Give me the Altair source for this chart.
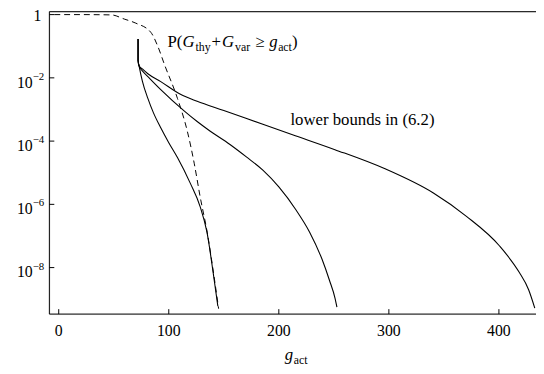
import altair as alt
import pandas as pd

# ---------------- values ----------------
# dashed curve: P(G_thy + G_var >= g_act)
dashed_x = [-4, 20, 48, 59.5, 70, 83.7, 90, 96.2, 107.9, 116.8, 123.1, 128.5, 135, 141, 145.3]
dashed_p = [1.0, 1.0, 0.977, 0.724, 0.537, 0.275, 0.1, 0.0257, 0.00224, 2.09e-4, 2.0e-5,
            1.74e-6, 1.26e-7, 5.62e-9, 5.01e-10]

# three solid "lower bounds" curves
bound1_x = [72.1, 72.1, 73, 76, 81, 86, 92.7, 100, 107.9, 119.5, 128.5, 134.7, 140.7, 144.6]
bound1_p = [0.170, 0.0355, 0.0240, 0.00794, 0.00224, 7.94e-4, 2.63e-4, 8.91e-5, 3.02e-5,
            4.68e-6, 8.51e-7, 1.32e-7, 5.62e-9, 6.03e-10]

bound2_x = [72.1, 72.1, 73, 76, 81, 92.7, 114.2, 125.8, 137.4, 155.3, 170.5, 185.5, 200,
            215.5, 228, 239.2, 246, 251.1, 252.8]
bound2_p = [0.170, 0.0355, 0.0240, 0.0166, 0.0110, 0.00427, 8.91e-4, 4.17e-4, 2.09e-4,
            7.94e-5, 3.16e-5, 1.20e-5, 3.55e-6, 6.76e-7, 1.32e-7, 1.86e-8, 3.98e-9,
            1.07e-9, 5.62e-10]

bound3_x = [72.1, 72.1, 73, 76, 81, 92.7, 110.6, 125.8, 150, 185.5, 215, 251, 296, 340.8,
            370.5, 400.4, 418.3, 427, 432.6]
bound3_p = [0.170, 0.0355, 0.0240, 0.0191, 0.0135, 0.00759, 0.00302, 0.00182, 9.33e-4,
            3.39e-4, 1.48e-4, 5.37e-5, 1.35e-5, 2.24e-6, 4.17e-7, 4.90e-8, 7.24e-9,
            2.0e-9, 5.25e-10]

# tick labels
xtick_vals = [0, 100, 200, 300, 400]
xtick_labels = ["0", "100", "200", "300", "400"]
ytick_vals = [1, 1e-2, 1e-4, 1e-6, 1e-8]
ytick_base = ["1", "10", "10", "10", "10"]
ytick_exp = ["", "\u22122", "\u22124", "\u22126", "\u22128"]

# annotation texts (pieces: roman / italic / subscript)
ann_prob_text = ["P(", "G", "thy", "+", "G", "var", "\u2265", "g", "act", ")"]
ann_prob_kind = ["roman", "italic", "sub", "roman", "italic", "sub", "roman", "italic", "sub", "roman"]
ann_prob_at = (98.9, 0.0935)
ann_bounds_text = "lower bounds in (6.2)"
ann_bounds_at = (210.5, 3.24e-4)
xtitle_text = ["g", "act"]
xtitle_kind = ["italic", "sub"]
xtitle_at = 205.5

# ---------------- layout / styling ----------------
W, H = 494, 307
XMIN, XMAX = -8.5, 433.7
YMIN, YMAX = 3.39e-10, 1.239
SERIF = "Liberation Serif, Times New Roman, serif"
MAIN, SUB, TICK = 17, 12, 16
PX_PER_UNIT = W / (XMAX - XMIN)

xscale = alt.Scale(domain=[XMIN, XMAX], nice=False, zero=False)
yscale = alt.Scale(type="log", domain=[YMIN, YMAX], nice=False)

ROMAN = {'P': 556, '(': 333, ')': 333, '+': 564, '\u2265': 549, 't': 278, 'h': 500,
         'y': 500, 'v': 500, 'a': 444, 'r': 333, 'c': 444}
ITALIC = {'G': 722, 'g': 500}
GAP_AFTER = {'G': 1.0, 'thy': 1.0, '+': 1.0, 'var': 5.0, '\u2265': 5.0, 'g': 0.5}


def piece_width(s, kind):
    size = SUB if kind == "sub" else MAIN
    table = ITALIC if kind == "italic" else ROMAN
    return sum(table[ch] for ch in s) * size / 1000.0


def layout_pieces(texts, kinds, x0):
    rows, off = [], 0.0
    for t, k in zip(texts, kinds):
        rows.append({"text": t, "kind": k, "x": x0 + off / PX_PER_UNIT})
        off += piece_width(t, k) + GAP_AFTER.get(t, 0.0)
    return rows


# ---------------- data tables ----------------
curve_rows = []
for name, xs, ps in [("b1", bound1_x, bound1_p), ("b2", bound2_x, bound2_p), ("b3", bound3_x, bound3_p)]:
    for i, (xv, pv) in enumerate(zip(xs, ps)):
        curve_rows.append({"curve": name, "i": i, "x": xv, "p": pv})
solid_df = pd.DataFrame(curve_rows)
dashed_df = pd.DataFrame({"i": list(range(len(dashed_x))), "x": dashed_x, "p": dashed_p})

X = lambda f: alt.X(f, type="quantitative", scale=xscale, axis=None)
Y = lambda f: alt.Y(f, type="quantitative", scale=yscale, axis=None)

solid = alt.Chart(solid_df).mark_line(color="black", strokeWidth=1.1, clip=True,
                                      interpolate="monotone").encode(
    x=X("x"), y=Y("p"), detail="curve:N", order="i:Q")
dashed = alt.Chart(dashed_df).mark_line(color="black", strokeWidth=1.0, strokeDash=[6, 4], clip=True,
                                        interpolate="monotone").encode(
    x=X("x"), y=Y("p"), order="i:Q")

one = pd.DataFrame({"a": [0]})
frame_left = alt.Chart(one).mark_rule(color="black", strokeWidth=1).encode(
    x=alt.value(0), y=alt.value(0), y2=alt.value(H))
frame_bottom = alt.Chart(one).mark_rule(color="black", strokeWidth=1).encode(
    x=alt.value(0), x2=alt.value(W), y=alt.value(H))
frame_top = alt.Chart(one).mark_rule(color="black", strokeWidth=1).encode(
    x=alt.value(0), x2=alt.value(W), y=alt.value(0))

xt_df = pd.DataFrame({"v": xtick_vals, "label": xtick_labels})
yt_df = pd.DataFrame({"v": ytick_vals, "base": ytick_base, "exp": ytick_exp})

xticks = alt.Chart(xt_df).mark_rule(color="black", strokeWidth=1).encode(
    x=X("v"), y=alt.value(H), y2=alt.value(H - 5))
yticks = alt.Chart(yt_df).mark_rule(color="black", strokeWidth=1).encode(
    y=Y("v"), x=alt.value(0), x2=alt.value(5))

xlabels = alt.Chart(xt_df).mark_text(font=SERIF, fontSize=TICK, align="center", baseline="alphabetic",
                                     color="black").encode(x=X("v"), y=alt.value(H + 22), text="label:N")
ybase = alt.Chart(yt_df).transform_filter("datum.exp != ''").mark_text(
    font=SERIF, fontSize=TICK, align="right", baseline="alphabetic", dy=10, color="black").encode(
    y=Y("v"), x=alt.value(-17), text="base:N")
yexp = alt.Chart(yt_df).transform_filter("datum.exp != ''").mark_text(
    font=SERIF, fontSize=11, align="left", baseline="alphabetic", dy=2, color="black").encode(
    y=Y("v"), x=alt.value(-17), text="exp:N")
yplain = alt.Chart(yt_df).transform_filter("datum.exp == ''").mark_text(
    font=SERIF, fontSize=TICK, align="right", baseline="alphabetic", dy=7, color="black").encode(
    y=Y("v"), x=alt.value(-8), text="base:N")

# annotation: P(G_thy + G_var >= g_act)
prob_rows = layout_pieces(ann_prob_text, ann_prob_kind, ann_prob_at[0])
for r in prob_rows:
    r["p"] = ann_prob_at[1]
prob_df = pd.DataFrame(prob_rows)


def styled_text(df, kind, y_enc):
    style = {"roman": dict(fontSize=MAIN, fontStyle="normal", dy=0),
             "italic": dict(fontSize=MAIN, fontStyle="italic", dy=0),
             "sub": dict(fontSize=SUB, fontStyle="normal", dy=3.5)}[kind]
    return alt.Chart(df).transform_filter(alt.datum.kind == kind).mark_text(
        font=SERIF, align="left", baseline="alphabetic", color="black", **style).encode(
        x=X("x"), y=y_enc, text="text:N")


prob_layers = [styled_text(prob_df, k, Y("p")) for k in ["roman", "italic", "sub"]]

bounds_label = alt.Chart(pd.DataFrame({"x": [ann_bounds_at[0]], "p": [ann_bounds_at[1]],
                                       "text": [ann_bounds_text]})).mark_text(
    font=SERIF, fontSize=MAIN, align="left", baseline="alphabetic", color="black").encode(
    x=X("x"), y=Y("p"), text="text:N")

title_df = pd.DataFrame(layout_pieces(xtitle_text, xtitle_kind, xtitle_at))
title_layers = [styled_text(title_df, "italic", alt.value(H + 47)),
                styled_text(title_df, "sub", alt.value(H + 47))]

chart = alt.layer(
    frame_top, frame_left, frame_bottom, xticks, yticks,
    dashed, solid,
    xlabels, ybase, yexp, yplain,
    *prob_layers, bounds_label, *title_layers,
).properties(
    width=W, height=H,
    autosize=alt.AutoSizeParams(type="none"),
    padding={"left": 42, "top": 1, "right": 0, "bottom": 50},
).configure_view(strokeWidth=0).configure(background="white")

chart.save("out.html", embed_options={"renderer": "svg", "actions": False})
